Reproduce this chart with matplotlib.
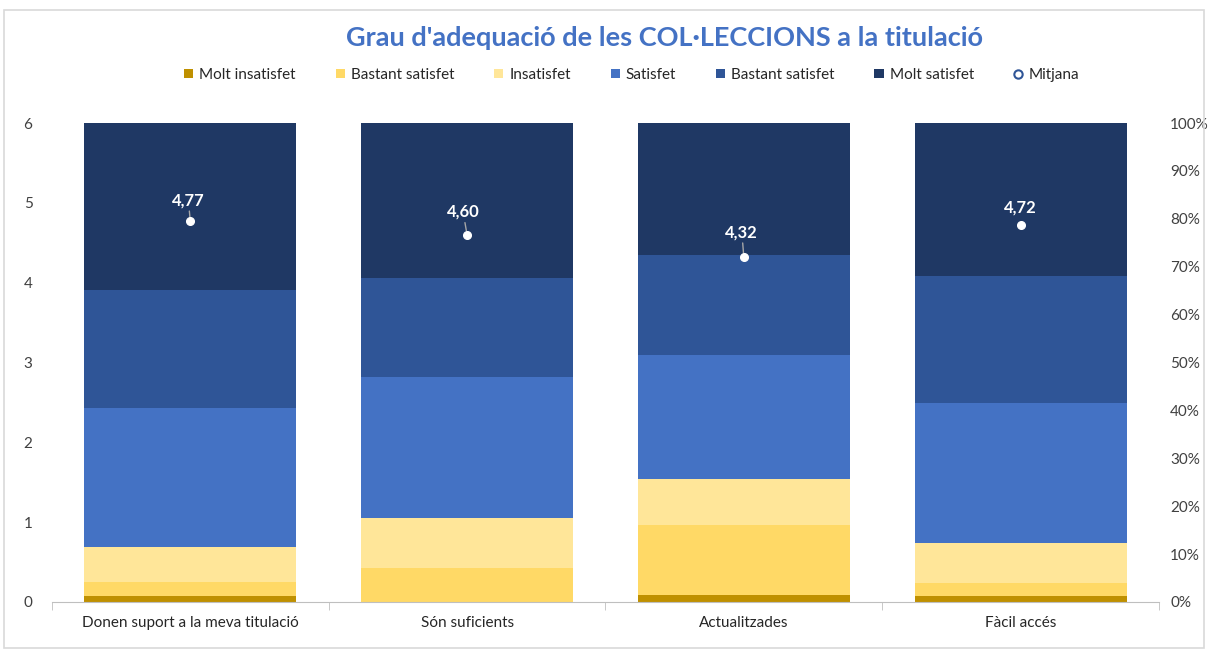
import matplotlib
matplotlib.use("Agg")
import matplotlib.pyplot as plt
from matplotlib.patches import Patch, Rectangle
from matplotlib.lines import Line2D
import numpy as np

plt.rcParams['font.family'] = ['Lato', 'DejaVu Sans']

categories = ["Donen suport a la meva titulació", "Són suficients", "Actualitzades", "Fàcil accés"]
series_names = ["Molt insatisfet", "Bastant satisfet", "Insatisfet", "Satisfet", "Bastant satisfet", "Molt satisfet"]

# percentage of answers per level (bottom to top)
molt_insatisfet = [1.3, 0.0, 1.5, 1.2]
bastant_insatisfet = [2.8, 7.2, 14.5, 2.8]
insatisfet = [7.4, 10.3, 9.6, 8.3]
satisfet = [29.0, 29.4, 25.9, 29.2]
bastant_satisfet = [24.6, 20.7, 20.9, 26.5]
molt_satisfet = [34.9, 32.4, 27.6, 32.0]

mitjana = [4.77, 4.60, 4.32, 4.72]

colors = ["#BF9000", "#FFD966", "#FFE699", "#4472C4", "#2F5597", "#1F3864"]

fig = plt.figure(figsize=(12.08, 6.52), dpi=100)
fig.patches.append(Rectangle((0.003, 0.006), 0.994, 0.978, transform=fig.transFigure,
                             fill=False, edgecolor="#D9D9D9", linewidth=1.2))

ax = fig.add_axes([0.043, 0.0767, 0.9164, 0.7345])
ax2 = ax.twinx()

x = np.arange(len(categories))
width = 0.766
bottom = np.zeros(len(categories))
series = [molt_insatisfet, bastant_insatisfet, insatisfet, satisfet, bastant_satisfet, molt_satisfet]
for vals, col in zip(series, colors):
    ax2.bar(x, vals, width, bottom=bottom, color=col, edgecolor="none", zorder=1)
    bottom += np.array(vals)

ax2.set_ylim(0, 100)
ax2.set_yticks(np.arange(0, 101, 10))
ax2.set_yticklabels([f"{v}%" for v in range(0, 101, 10)])

# means go on the left axis, drawn above the bars
ax.set_zorder(ax2.get_zorder() + 1)
ax.patch.set_visible(False)
ax.set_ylim(0, 6)
ax.set_yticks(range(7))
ax.plot(x, mitjana, linestyle="none", marker="o", markersize=5.5,
        markerfacecolor="white", markeredgecolor="white", zorder=5)

label_offsets = [(-2, 13), (-4, 15), (-2, 17), (0, 10)]
for xi, m, off in zip(x, mitjana, label_offsets):
    ax.annotate(f"{m:.2f}".replace(".", ","), (xi, m), xytext=off, textcoords="offset pixels",
                ha="center", va="bottom", color="white", fontsize=12, fontweight="bold",
                arrowprops=dict(arrowstyle="-", color="#A6A6A6", lw=1, shrinkA=0, shrinkB=3)
                if off[1] > 12 else None)

for a in (ax, ax2):
    for s in ("top", "left", "right"):
        a.spines[s].set_visible(False)
    a.tick_params(axis="y", length=0, labelsize=11, colors="#404040")
ax2.spines["bottom"].set_visible(False)
ax.spines["bottom"].set_color("#BFBFBF")
ax.tick_params(axis="y", pad=14)
ax2.tick_params(axis="y", pad=8)

ax.set_xlim(-0.5, len(categories) - 0.5)
ax.set_xticks(x)
ax.set_xticklabels(categories)
ax.tick_params(axis="x", which="major", length=0, pad=10, labelsize=11, labelcolor="#262626")
ax.set_xticks(np.arange(-0.5, len(categories)), minor=True)
ax.tick_params(axis="x", which="minor", length=6, color="#BFBFBF", direction="out")

fig.text(0.55, 0.942, "Grau d'adequació de les COL·LECCIONS a la titulació", ha="center", va="center",
         fontsize=19.5, fontweight="bold", color="#4472C4")

handles = [Patch(facecolor=c, edgecolor="none") for c in colors]
handles.append(Line2D([], [], linestyle="none", marker="o", markersize=6,
                      markerfacecolor="white", markeredgecolor="#2F5597", markeredgewidth=1.5))
fig.legend(handles, series_names + ["Mitjana"], loc="center", bbox_to_anchor=(0.523, 0.885),
           ncol=7, frameon=False, fontsize=11, handlelength=0.6, handleheight=0.6,
           handletextpad=0.4, columnspacing=2.6, labelcolor="#262626")

fig.savefig("out.png", dpi=100, facecolor="white")
